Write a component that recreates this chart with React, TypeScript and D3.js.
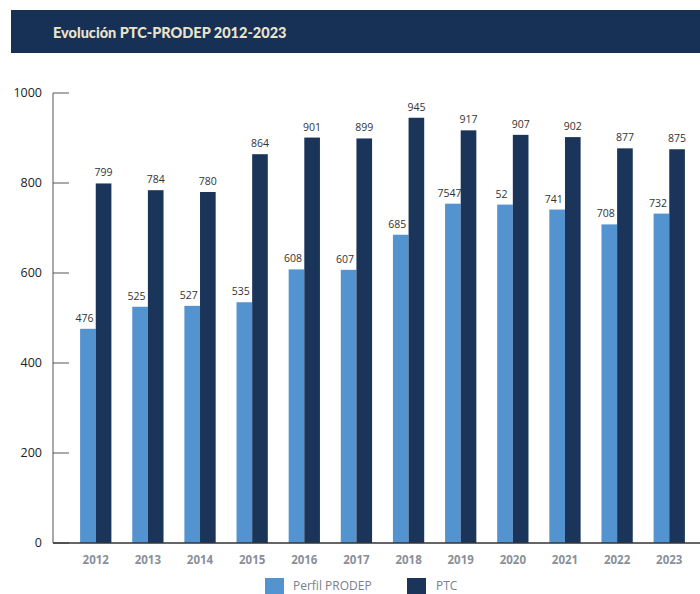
import React from "react";
import * as d3 from "d3";

const years = ["2012","2013","2014","2015","2016","2017","2018","2019","2020","2021","2022","2023"];
const perfilValues = [476, 525, 527, 535, 608, 607, 685, 754, 752, 741, 708, 732];
const perfilLabels = ["476","525","527","535","608","607","685","7547","52","741","708","732"];
const ptcValues = [799, 784, 780, 864, 901, 899, 945, 917, 907, 902, 877, 875];
const yTicks = [0, 200, 400, 600, 800, 1000];
const seriesNames = ["Perfil PRODEP", "PTC"];
const title = "Evolución PTC-PRODEP 2012-2023";

const W = 700, H = 594;
const C_LIGHT = "#5393d0";
const C_DARK = "#1a3559";
const HEADER = "#163155";

export default function App() {
  const y = d3.scaleLinear().domain([0, 1000]).range([543, 93]);
  const x = d3.scaleBand<string>().domain(years).range([53, 712]).paddingInner(0.4).paddingOuter(0.52);
  const sub = d3.scaleBand<string>().domain(seriesNames).range([0, x.bandwidth()]);
  const font = "'Open Sans', 'DejaVu Sans', sans-serif";
  return (
    <svg width={W} height={H} style={{ position: "absolute", left: 0, top: 0 }} fontFamily={font}>
      <rect x={11} y={10} width={W - 11} height={43} fill={HEADER} />
      <text x={53} y={38} fill="#ebe4cc" fontSize={14.5} fontWeight={900} fontFamily="Lato, 'Open Sans', sans-serif">{title}</text>

      {/* y axis */}
      <line x1={53} x2={53} y1={y(1000)} y2={y(0)} stroke="#555" strokeWidth={1} />
      {yTicks.map((t) => (
        <g key={t}>
          <line x1={53} x2={69} y1={y(t)} y2={y(t)} stroke="#555" strokeWidth={1} />
          <text x={42} y={y(t)} dy="0.35em" textAnchor="end" fontSize={12.5} fill="#222">{t}</text>
        </g>
      ))}

      {/* bars */}
      {years.map((yr, i) => {
        const x0 = x(yr)!;
        const xa = x0 + sub(seriesNames[0])!;
        const xb = x0 + sub(seriesNames[1])!;
        const bw = sub.bandwidth();
        return (
          <g key={yr}>
            <rect x={xa} y={y(perfilValues[i])} width={bw} height={y(0) - y(perfilValues[i])} fill={C_LIGHT} />
            <rect x={xb} y={y(ptcValues[i])} width={bw} height={y(0) - y(ptcValues[i])} fill={C_DARK} />
            <text x={xa + bw / 2 - 3.5} y={y(perfilValues[i]) - 7} textAnchor="middle" fontSize={10.5} fill="#333">{perfilLabels[i]}</text>
            <text x={xb + bw / 2} y={y(ptcValues[i]) - 7} textAnchor="middle" fontSize={10.5} fill="#333">{ptcValues[i]}</text>
            <text x={x0 + x.bandwidth() / 2} y={564} textAnchor="middle" fontSize={11.5} fontWeight={700} fill="#8a8f99">{yr}</text>
          </g>
        );
      })}

      {/* x axis */}
      <line x1={53} x2={W} y1={y(0)} y2={y(0)} stroke="#333" strokeWidth={1.5} />

      {/* legend */}
      <rect x={265} y={578} width={19} height={16} fill={C_LIGHT} />
      <text x={293} y={590} fontSize={12} fill="#7a808c">{seriesNames[0]}</text>
      <rect x={407} y={578} width={19} height={16} fill={C_DARK} />
      <text x={436} y={590} fontSize={12} fill="#7a808c">{seriesNames[1]}</text>
    </svg>
  );
}
